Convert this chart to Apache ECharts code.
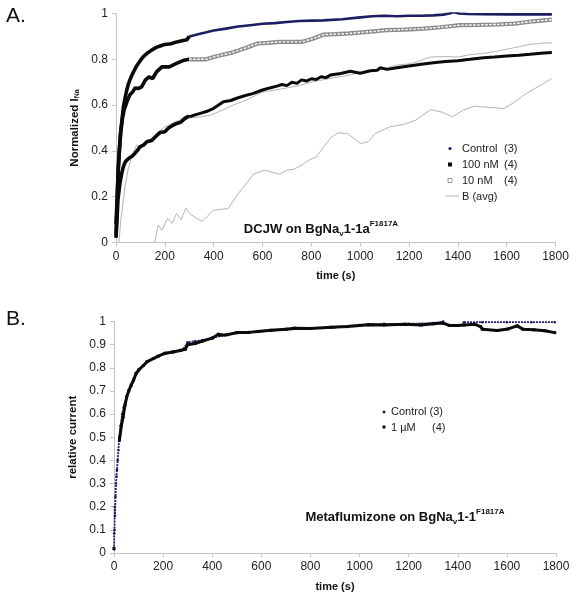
<!DOCTYPE html>
<html><head><meta charset="utf-8">
<script src="https://cdn.jsdelivr.net/npm/echarts@6/dist/echarts.min.js"></script>
<style>html,body{margin:0;padding:0;background:#fff}#c{width:576px;height:600px}</style>
</head><body><div id="c"></div>
<script>
// ---------- Panel A data (time s, normalized I_Na) ----------
const ctrlAT = [0,4,8,13,19,25,30,37,44,50,57,65,75,85,100,112,126,146,165,181,200,225,249,275,290,300,320,345,370,400,450,500,550,600,650,700,750,800,850,926,1000,1050,1100,1150,1200,1250,1300,1340,1365,1384,1405,1440,1500,1600,1700,1785];
const ctrlAV = [0.03,0.15,0.3,0.4,0.48,0.54,0.59,0.63,0.665,0.69,0.71,0.73,0.752,0.772,0.795,0.812,0.825,0.84,0.852,0.858,0.865,0.868,0.876,0.882,0.885,0.9,0.905,0.912,0.918,0.926,0.934,0.943,0.949,0.955,0.958,0.963,0.967,0.969,0.97,0.975,0.983,0.988,0.99,0.988,0.99,0.99,0.992,0.995,1.0,1.006,1.0,0.998,0.997,0.996,0.996,0.996];

const tenT = [0,3,10,19,26,33,45,57,70,78,90,105,120,135,150,166,188,218,248,279,300,340,369,400,429,470,505,540,580,620,670,720,760,806,851,900,956,1032,1107,1182,1258,1330,1408,1480,1559,1634,1709,1785];
const tenV = [0.08,0.156,0.33,0.478,0.54,0.578,0.615,0.645,0.66,0.675,0.672,0.68,0.709,0.723,0.716,0.745,0.767,0.767,0.782,0.796,0.8,0.8,0.8,0.81,0.818,0.828,0.84,0.853,0.869,0.872,0.876,0.876,0.876,0.89,0.908,0.91,0.913,0.92,0.927,0.93,0.934,0.94,0.949,0.95,0.952,0.956,0.966,0.973];

const hunT = [0,4,8,15,23,30,37,44,55,64,78,90,98,112,126,146,165,180,200,215,230,249,265,280,296,300,320,345,370,400,420,440,470,494,530,560,600,630,659,680,700,720,741,760,780,800,820,840,860,878,920,960,1000,1042,1070,1083,1110,1150,1200,1250,1300,1350,1400,1450,1505,1550,1600,1650,1696,1740,1785];
const hunV = [0.02,0.1,0.186,0.25,0.3,0.33,0.35,0.36,0.37,0.375,0.39,0.405,0.418,0.425,0.44,0.445,0.465,0.48,0.484,0.5,0.51,0.52,0.525,0.54,0.55,0.548,0.556,0.564,0.572,0.586,0.6,0.615,0.62,0.63,0.642,0.65,0.666,0.675,0.683,0.69,0.685,0.7,0.695,0.71,0.705,0.715,0.712,0.724,0.72,0.731,0.738,0.748,0.739,0.75,0.752,0.763,0.756,0.763,0.771,0.778,0.785,0.79,0.794,0.8,0.807,0.81,0.814,0.818,0.822,0.826,0.83];

const bUpT = [12,20,37,50,64,78,85,92,98,126,150,167,200,230,260,290,320,350,386,430,480,530,600,650,700,741,800,878,950,1000,1050,1100,1150,1200,1250,1287,1350,1400,1450,1505,1560,1600,1650,1696,1740,1785];
const bUpV = [0.0,0.1,0.244,0.32,0.375,0.411,0.425,0.418,0.418,0.44,0.46,0.477,0.505,0.52,0.535,0.557,0.545,0.55,0.556,0.575,0.6,0.62,0.657,0.665,0.675,0.683,0.7,0.717,0.73,0.742,0.75,0.76,0.775,0.78,0.795,0.81,0.812,0.81,0.82,0.826,0.835,0.844,0.855,0.865,0.87,0.872];

const bLowT = [158,173,188,211,230,248,267,286,301,330,354,399,459,505,565,610,670,700,730,760,791,820,851,881,911,949,1001,1032,1062,1122,1182,1227,1288,1333,1378,1423,1468,1529,1589,1634,1679,1739,1784];
const bLowV = [0,0.076,0.054,0.105,0.083,0.127,0.1,0.15,0.127,0.105,0.093,0.141,0.148,0.22,0.3,0.316,0.298,0.316,0.32,0.338,0.36,0.374,0.418,0.46,0.479,0.476,0.432,0.44,0.476,0.505,0.517,0.534,0.58,0.57,0.549,0.578,0.595,0.59,0.585,0.614,0.65,0.687,0.716];

// ---------- Panel B data (time s, relative current) ----------
const ctrlBT = [0,1,2,3,4,6,8,10,12,15,18,22,27,33,40,50,60,75,90,110,135,160,200,240,280,300,330,360,400,450,500,600,700,800,900,1000,1050,1100,1200,1300,1340,1380,1425,1500,1600,1700,1795];
const ctrlBV = [0.015,0.085,0.1,0.2,0.16,0.243,0.3,0.33,0.358,0.4,0.445,0.5,0.55,0.6,0.63,0.665,0.7,0.735,0.77,0.8,0.825,0.84,0.86,0.87,0.878,0.91,0.915,0.92,0.93,0.94,0.95,0.958,0.965,0.97,0.975,0.985,0.988,0.99,0.99,0.993,1.0,null,0.997,0.997,0.997,0.997,0.997];

const muT = [0,20,22,30,37,45,52,60,70,80,90,100,120,135,160,180,210,240,270,290,300,330,360,400,425,435,460,500,550,585,640,700,735,800,885,950,1000,1035,1100,1185,1250,1300,1340,1365,1400,1425,1470,1493,1500,1560,1605,1642,1665,1710,1755,1795];
const muV = [0.02,null,0.487,0.55,0.588,0.64,0.675,0.7,0.725,0.748,0.776,0.79,0.81,0.827,0.84,0.85,0.863,0.868,0.875,0.88,0.9,0.905,0.915,0.928,0.945,0.942,0.943,0.952,0.953,0.957,0.962,0.967,0.971,0.97,0.975,0.978,0.983,0.986,0.985,0.988,0.985,0.99,0.993,0.983,0.983,0.985,0.988,0.978,0.967,0.961,0.968,0.981,0.967,0.964,0.96,0.952];

const yTicksA = [0,0.2,0.4,0.6,0.8,1];
const yTicksB = [0,0.1,0.2,0.3,0.4,0.5,0.6,0.7,0.8,0.9,1];
const xTicks = [0,200,400,600,800,1000,1200,1400,1600,1800];

// ---------- build ----------
const F = 'Liberation Sans, Arial, sans-serif';
const NAVY = '#1d1d62';
const pts = (t, v) => t.map((x, i) => [x, v[i]]);
const seg = (p, lo, hi) => p.filter(d => d[0] >= lo && d[0] <= hi);
const SPLIT = 300;
const pick = (ticks) => v => { const r = ticks.find(k => Math.abs(k - v) < 1e-6); return r === undefined ? '' : String(r); };

function xAx(gi) {
  return {type:'value', gridIndex:gi, min:0, max:1800, interval:200,
    name:'time (s)', nameLocation:'middle', nameGap:28,
    nameTextStyle:{fontFamily:F, fontWeight:'bold', fontSize:11, color:'#111'},
    axisLine:{show:true, lineStyle:{color:'#c4c4c4'}},
    axisTick:{show:true, length:4, lineStyle:{color:'#c4c4c4'}},
    axisLabel:{fontFamily:F, fontSize:12, color:'#222', margin:8, formatter:pick(xTicks)},
    splitLine:{show:false}};
}
function yAx(gi, interval, name, gap, ticks) {
  return {type:'value', gridIndex:gi, min:0, max:1, interval:interval,
    name:name, nameLocation:'middle', nameGap:gap,
    nameTextStyle:{fontFamily:F, fontWeight:'bold', fontSize:11.5, color:'#111',
      rich:{s:{fontFamily:F, fontWeight:'bold', fontSize:7, color:'#111', verticalAlign:'bottom', lineHeight:10}}},
    axisLine:{show:true, lineStyle:{color:'#c4c4c4'}},
    axisTick:{show:true, length:4, lineStyle:{color:'#c4c4c4'}},
    axisLabel:{fontFamily:F, fontSize:12, color:'#222', margin:8, formatter:pick(ticks)},
    splitLine:{show:false}};
}
function line(gi, data, color, width, z, extra) {
  return Object.assign({type:'line', xAxisIndex:gi, yAxisIndex:gi, data:data, showSymbol:false,
    lineStyle:{color:color, width:width}, itemStyle:{color:color}, z:z, silent:true, animation:false}, extra || {});
}

const ctrlA = pts(ctrlAT, ctrlAV), tenA = pts(tenT, tenV), hunA = pts(hunT, hunV);
const bUp = pts(bUpT, bUpV), bLow = pts(bLowT, bLowV);
const ctrlB = pts(ctrlBT, ctrlBV), muB = pts(muT, muV);

const series = [
  line(0, bLow, '#b4b4b4', 1, 1),
  line(0, bUp, '#b4b4b4', 1, 1),
  line(0, seg(hunA, 0, SPLIT), '#0a0a0a', 3.6, 3),
  line(0, seg(hunA, SPLIT, 1800), '#0a0a0a', 3, 3),
  line(0, seg(tenA, 0, SPLIT), '#0a0a0a', 3.6, 4),
  line(0, seg(tenA, SPLIT, 1800), '#8c8c8c', 4.2, 4),
  line(0, seg(tenA, SPLIT, 1800), '#ffffff', 1.4, 5, {lineStyle:{color:'#ffffff', width:1.4, type:[2.5,1.5]}}),
  line(0, seg(ctrlA, 0, SPLIT), '#0a0a0a', 3.6, 6),
  line(0, seg(ctrlA, SPLIT, 1800), NAVY, 2.6, 6),
  line(1, ctrlB, NAVY, 1.6, 3, {showSymbol:true, showAllSymbol:true, symbol:'circle', symbolSize:2.6,
    lineStyle:{color:NAVY, width:1.8, type:[2,1]}}),
  line(1, muB, '#0a0a0a', 3, 4, {showSymbol:true, showAllSymbol:true, symbol:'rect', symbolSize:3})
];

function txt(x, y, s, size, extra) {
  return {type:'text', x:x, y:y, silent:true,
    style:Object.assign({text:s, font:size + 'px ' + F, fill:'#222', verticalAlign:'middle', align:'left'}, extra || {})};
}
function richTitle(x, y, main1, sub, main2, sup) {
  return {type:'text', x:x, y:y, silent:true,
    style:{text:'{b|' + main1 + '}{s|' + sub + '}{b|' + main2 + '}{p|' + sup + '}',
      align:'center', verticalAlign:'middle',
      rich:{
        b:{fontFamily:F, fontWeight:'bold', fontSize:13, lineHeight:18, fill:'#111', verticalAlign:'middle'},
        s:{fontFamily:F, fontWeight:'bold', fontSize:8, lineHeight:8, fill:'#111', verticalAlign:'bottom'},
        p:{fontFamily:F, fontWeight:'bold', fontSize:8, lineHeight:8, fill:'#111', verticalAlign:'top'}
      }}};
}

const graphic = [
  txt(6, 16, 'A.', 21, {fill:'#111'}),
  txt(6, 319, 'B.', 21, {fill:'#111'}),
  richTitle(321, 229, 'DCJW on BgNa', 'v', '1-1a', 'F1817A'),
  richTitle(405, 517, 'Metaflumizone on BgNa', 'v', '1-1', 'F1817A'),
  // legend A
  {type:'circle', shape:{cx:450, cy:148.5, r:1.6}, style:{fill:NAVY}, silent:true},
  {type:'rect', shape:{x:448, y:162.5, width:4, height:4}, style:{fill:'#0a0a0a'}, silent:true},
  {type:'rect', shape:{x:448, y:178.5, width:4, height:4}, style:{fill:'#fff', stroke:'#999', lineWidth:1}, silent:true},
  {type:'line', shape:{x1:445, y1:196, x2:459, y2:196}, style:{stroke:'#b4b4b4', lineWidth:1}, silent:true},
  txt(462, 149, 'Control', 11), txt(504, 149, '(3)', 11),
  txt(462, 165, '100 nM', 11), txt(504, 165, '(4)', 11),
  txt(462, 181, '10 nM', 11), txt(504, 181, '(4)', 11),
  txt(462, 197, 'B (avg)', 11),
  // legend B
  {type:'circle', shape:{cx:384, cy:412, r:1.5}, style:{fill:NAVY}, silent:true},
  {type:'rect', shape:{x:382.5, y:425.5, width:3, height:3}, style:{fill:'#0a0a0a'}, silent:true},
  txt(391, 412, 'Control (3)', 11),
  txt(391, 427.5, '1 \u00b5M', 11), txt(432, 427.5, '(4)', 11)
];

const chart = echarts.init(document.getElementById('c'), null, {renderer:'canvas'});
chart.setOption({
  animation:false,
  backgroundColor:'#fff',
  grid:[
    {left:116, top:13.5, width:439.5, height:229, containLabel:false},
    {left:114, top:321.5, width:442, height:231.5, containLabel:false}
  ],
  xAxis:[xAx(0), xAx(1)],
  yAxis:[
    yAx(0, 0.2, 'Normalized I{s|Na}', 35, yTicksA),
    yAx(1, 0.1, 'relative current', 29, yTicksB)
  ],
  series:series,
  graphic:graphic
});
</script></body></html>
